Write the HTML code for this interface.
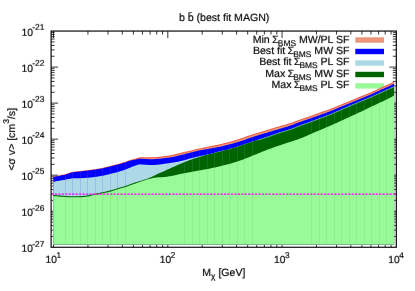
<!DOCTYPE html>
<html><head><meta charset="utf-8"><title>plot</title>
<style>html,body{margin:0;padding:0;background:#fff;}svg{display:block;}</style></head>
<body>
<svg width="415" height="291" viewBox="0 0 415 291">
<rect width="415" height="291" fill="#fff"/>
<path d="M53.55 247.25v-7.0M53.55 31.05v7.0M87.94 247.25v-3.5M87.94 31.05v3.5M108.06 247.25v-3.5M108.06 31.05v3.5M122.34 247.25v-3.5M122.34 31.05v3.5M133.41 247.25v-3.5M133.41 31.05v3.5M142.45 247.25v-3.5M142.45 31.05v3.5M150.10 247.25v-3.5M150.10 31.05v3.5M156.73 247.25v-3.5M156.73 31.05v3.5M162.57 247.25v-3.5M162.57 31.05v3.5M167.80 247.25v-7.0M167.80 31.05v7.0M202.19 247.25v-3.5M202.19 31.05v3.5M222.31 247.25v-3.5M222.31 31.05v3.5M236.59 247.25v-3.5M236.59 31.05v3.5M247.66 247.25v-3.5M247.66 31.05v3.5M256.70 247.25v-3.5M256.70 31.05v3.5M264.35 247.25v-3.5M264.35 31.05v3.5M270.98 247.25v-3.5M270.98 31.05v3.5M276.82 247.25v-3.5M276.82 31.05v3.5M282.05 247.25v-7.0M282.05 31.05v7.0M316.44 247.25v-3.5M316.44 31.05v3.5M336.56 247.25v-3.5M336.56 31.05v3.5M350.84 247.25v-3.5M350.84 31.05v3.5M361.91 247.25v-3.5M361.91 31.05v3.5M370.95 247.25v-3.5M370.95 31.05v3.5M378.60 247.25v-3.5M378.60 31.05v3.5M385.23 247.25v-3.5M385.23 31.05v3.5M391.07 247.25v-3.5M391.07 31.05v3.5M51.1 56.24h3.5M396.3 56.24h-3.5M51.1 49.89h3.5M396.3 49.89h-3.5M51.1 45.39h3.5M396.3 45.39h-3.5M51.1 41.90h3.5M396.3 41.90h-3.5M51.1 39.04h3.5M396.3 39.04h-3.5M51.1 36.63h3.5M396.3 36.63h-3.5M51.1 34.54h3.5M396.3 34.54h-3.5M51.1 32.70h3.5M396.3 32.70h-3.5M51.1 67.08h7.0M396.3 67.08h-7.0M51.1 92.27h3.5M396.3 92.27h-3.5M51.1 85.92h3.5M396.3 85.92h-3.5M51.1 81.42h3.5M396.3 81.42h-3.5M51.1 77.93h3.5M396.3 77.93h-3.5M51.1 75.08h3.5M396.3 75.08h-3.5M51.1 72.66h3.5M396.3 72.66h-3.5M51.1 70.58h3.5M396.3 70.58h-3.5M51.1 68.73h3.5M396.3 68.73h-3.5M51.1 103.12h7.0M396.3 103.12h-7.0M51.1 128.30h3.5M396.3 128.30h-3.5M51.1 121.96h3.5M396.3 121.96h-3.5M51.1 117.46h3.5M396.3 117.46h-3.5M51.1 113.96h3.5M396.3 113.96h-3.5M51.1 111.11h3.5M396.3 111.11h-3.5M51.1 108.70h3.5M396.3 108.70h-3.5M51.1 106.61h3.5M396.3 106.61h-3.5M51.1 104.77h3.5M396.3 104.77h-3.5M51.1 139.15h7.0M396.3 139.15h-7.0M51.1 164.34h3.5M396.3 164.34h-3.5M51.1 157.99h3.5M396.3 157.99h-3.5M51.1 153.49h3.5M396.3 153.49h-3.5M51.1 150.00h3.5M396.3 150.00h-3.5M51.1 147.14h3.5M396.3 147.14h-3.5M51.1 144.73h3.5M396.3 144.73h-3.5M51.1 142.64h3.5M396.3 142.64h-3.5M51.1 140.80h3.5M396.3 140.80h-3.5M51.1 175.18h7.0M396.3 175.18h-7.0M51.1 200.37h3.5M396.3 200.37h-3.5M51.1 194.02h3.5M396.3 194.02h-3.5M51.1 189.52h3.5M396.3 189.52h-3.5M51.1 186.03h3.5M396.3 186.03h-3.5M51.1 183.18h3.5M396.3 183.18h-3.5M51.1 180.76h3.5M396.3 180.76h-3.5M51.1 178.68h3.5M396.3 178.68h-3.5M51.1 176.83h3.5M396.3 176.83h-3.5M51.1 211.22h7.0M396.3 211.22h-7.0M51.1 236.40h3.5M396.3 236.40h-3.5M51.1 230.06h3.5M396.3 230.06h-3.5M51.1 225.56h3.5M396.3 225.56h-3.5M51.1 222.06h3.5M396.3 222.06h-3.5M51.1 219.21h3.5M396.3 219.21h-3.5M51.1 216.80h3.5M396.3 216.80h-3.5M51.1 214.71h3.5M396.3 214.71h-3.5M51.1 212.87h3.5M396.3 212.87h-3.5" stroke="#000" stroke-width="0.8" fill="none"/>
<rect x="355.3" y="37.30" width="28.7" height="5.4" fill="#E9967A"/>
<rect x="355.3" y="48.80" width="28.7" height="5.4" fill="#0000FF"/>
<rect x="355.3" y="60.30" width="28.7" height="5.4" fill="#ADD8E6"/>
<rect x="355.3" y="71.80" width="28.7" height="5.4" fill="#006400"/>
<rect x="355.3" y="83.20" width="28.7" height="5.4" fill="#98FB98"/>
<g fill="#F0503C"><polygon points="53.30,176.45 54.00,176.35 55.00,176.21 56.00,176.05 57.00,175.87 58.00,175.69 58.00,244.6 53.30,244.6"/><polygon points="58.00,175.69 59.00,175.49 60.00,175.29 61.00,175.07 62.00,174.85 63.00,174.62 64.00,174.39 65.00,174.15 65.15,174.11 65.15,244.6 58.00,244.6"/><polygon points="65.15,174.11 66.00,173.89 67.00,173.58 68.00,173.23 69.00,172.88 70.00,172.53 71.00,172.22 72.00,171.96 72.15,171.93 72.15,244.6 65.15,244.6"/><polygon points="72.15,171.93 73.00,171.79 74.00,171.65 75.00,171.52 76.00,171.42 77.00,171.32 78.00,171.23 79.00,171.14 80.00,171.04 80.15,171.02 80.15,244.6 72.15,244.6"/><polygon points="80.15,171.02 81.00,170.93 82.00,170.81 83.00,170.70 84.00,170.59 85.00,170.47 86.00,170.35 87.00,170.23 87.15,170.22 87.15,244.6 80.15,244.6"/><polygon points="87.15,170.22 88.00,170.11 89.00,169.98 90.00,169.85 91.00,169.71 92.00,169.57 93.00,169.43 94.00,169.29 95.00,169.14 95.15,169.12 95.15,244.6 87.15,244.6"/><polygon points="95.15,169.12 96.00,168.99 97.00,168.83 98.00,168.66 99.00,168.50 100.00,168.32 101.00,168.14 102.00,167.95 102.15,167.92 102.15,244.6 95.15,244.6"/><polygon points="102.15,167.92 103.00,167.75 104.00,167.53 105.00,167.29 106.00,167.04 107.00,166.78 108.00,166.52 109.00,166.26 110.00,166.00 110.15,165.96 110.15,244.6 102.15,244.6"/><polygon points="110.15,165.96 111.00,165.75 112.00,165.50 113.00,165.25 114.00,165.00 115.00,164.74 116.00,164.49 117.00,164.22 117.15,164.18 117.15,244.6 110.15,244.6"/><polygon points="117.15,164.18 118.00,163.95 119.00,163.67 120.00,163.39 121.00,163.11 122.00,162.81 123.00,162.51 124.00,162.20 125.00,161.88 125.15,161.83 125.15,244.6 117.15,244.6"/><polygon points="125.15,161.83 126.00,161.55 127.00,161.17 128.00,160.78 129.00,160.39 130.00,160.05 131.00,159.76 132.00,159.50 133.00,159.26 133.00,244.6 125.15,244.6"/><polygon points="133.00,159.26 134.00,159.02 135.00,158.77 136.00,158.49 137.00,158.12 138.00,157.73 139.00,157.44 140.00,157.32 140.00,244.6 133.00,244.6"/><polygon points="140.00,157.32 141.00,157.27 142.00,157.22 143.00,157.19 144.00,157.16 145.00,157.15 146.00,157.16 147.00,157.19 148.00,157.23 148.00,244.6 140.00,244.6"/><polygon points="148.00,157.23 149.00,157.29 150.00,157.33 151.00,157.35 152.00,157.34 153.00,157.31 154.00,157.26 155.00,157.19 155.00,244.6 148.00,244.6"/><polygon points="155.00,157.19 156.00,157.11 157.00,157.02 158.00,156.93 159.00,156.84 160.00,156.73 161.00,156.60 162.00,156.45 163.00,156.30 163.00,244.6 155.00,244.6"/><polygon points="163.00,156.30 164.00,156.15 165.00,156.01 166.00,155.90 167.00,155.80 168.00,155.69 169.00,155.57 170.00,155.42 170.00,244.6 163.00,244.6"/><polygon points="170.00,155.42 171.00,155.25 172.00,155.04 173.00,154.81 174.00,154.55 175.00,154.29 176.00,154.01 177.00,153.74 177.00,244.6 170.00,244.6"/><polygon points="177.00,153.74 178.00,153.47 179.00,153.21 180.00,152.98 181.00,152.75 182.00,152.52 183.00,152.29 184.00,152.07 184.15,152.04 184.15,244.6 177.00,244.6"/><polygon points="184.15,152.04 185.00,151.85 186.00,151.62 187.00,151.39 188.00,151.15 189.00,150.92 190.00,150.69 191.00,150.45 192.00,150.22 192.15,150.19 192.15,244.6 184.15,244.6"/><polygon points="192.15,150.19 193.00,149.99 194.00,149.76 195.00,149.53 196.00,149.30 197.00,149.08 198.00,148.85 199.00,148.63 199.15,148.59 199.15,244.6 192.15,244.6"/><polygon points="199.15,148.59 200.00,148.41 201.00,148.18 202.00,147.96 203.00,147.74 204.00,147.53 205.00,147.31 206.00,147.09 207.00,146.88 207.15,146.85 207.15,244.6 199.15,244.6"/><polygon points="207.15,146.85 208.00,146.67 209.00,146.46 210.00,146.25 211.00,146.05 212.00,145.85 213.00,145.66 214.00,145.47 214.15,145.44 214.15,244.6 207.15,244.6"/><polygon points="214.15,145.44 215.00,145.28 216.00,145.09 217.00,144.89 218.00,144.69 219.00,144.48 220.00,144.26 221.00,144.04 222.00,143.80 222.15,143.77 222.15,244.6 214.15,244.6"/><polygon points="222.15,143.77 223.00,143.57 224.00,143.32 225.00,143.08 226.00,142.82 227.00,142.56 228.00,142.30 229.00,142.03 229.15,141.99 229.15,244.6 222.15,244.6"/><polygon points="229.15,141.99 230.00,141.76 231.00,141.48 232.00,141.19 233.00,140.89 234.00,140.59 235.00,140.28 236.00,139.97 237.00,139.66 237.15,139.61 237.15,244.6 229.15,244.6"/><polygon points="237.15,139.61 238.00,139.34 239.00,139.02 240.00,138.69 241.00,138.36 242.00,138.01 243.00,137.67 244.00,137.32 244.15,137.26 244.15,244.6 237.15,244.6"/><polygon points="244.15,137.26 245.00,136.96 246.00,136.61 247.00,136.26 248.00,135.92 249.00,135.58 250.00,135.25 251.00,134.93 252.00,134.61 252.15,134.56 252.15,244.6 244.15,244.6"/><polygon points="252.15,134.56 253.00,134.29 254.00,133.97 255.00,133.66 256.00,133.35 257.00,133.05 258.00,132.74 259.00,132.43 260.00,132.13 260.00,244.6 252.15,244.6"/><polygon points="260.00,132.13 261.00,131.82 262.00,131.52 263.00,131.23 264.00,130.93 265.00,130.63 266.00,130.33 267.00,130.04 267.00,244.6 260.00,244.6"/><polygon points="267.00,130.04 268.00,129.74 269.00,129.44 270.00,129.14 271.00,128.84 272.00,128.53 273.00,128.23 274.00,127.92 275.00,127.62 275.00,244.6 267.00,244.6"/><polygon points="275.00,127.62 276.00,127.32 277.00,127.02 278.00,126.72 279.00,126.42 280.00,126.13 281.00,125.85 282.00,125.57 282.00,244.6 275.00,244.6"/><polygon points="282.00,125.57 283.00,125.29 284.00,125.01 285.00,124.74 286.00,124.45 287.00,124.17 288.00,123.87 289.00,123.57 290.00,123.25 290.00,244.6 282.00,244.6"/><polygon points="290.00,123.25 291.00,122.92 292.00,122.57 293.00,122.21 294.00,121.84 295.00,121.47 296.00,121.09 297.00,120.71 297.00,244.6 290.00,244.6"/><polygon points="297.00,120.71 298.00,120.33 299.00,119.97 300.00,119.61 301.00,119.25 302.00,118.90 303.00,118.55 304.00,118.20 304.00,244.6 297.00,244.6"/><polygon points="304.00,118.20 305.00,117.85 306.00,117.50 307.00,117.16 308.00,116.81 309.00,116.46 310.00,116.10 311.00,115.75 311.15,115.70 311.15,244.6 304.00,244.6"/><polygon points="311.15,115.70 312.00,115.40 313.00,115.04 314.00,114.69 315.00,114.33 316.00,113.98 317.00,113.62 318.00,113.27 319.00,112.91 319.15,112.86 319.15,244.6 311.15,244.6"/><polygon points="319.15,112.86 320.00,112.56 321.00,112.22 322.00,111.87 323.00,111.53 324.00,111.19 325.00,110.84 326.00,110.50 326.15,110.44 326.15,244.6 319.15,244.6"/><polygon points="326.15,110.44 327.00,110.14 328.00,109.79 329.00,109.42 330.00,109.05 331.00,108.67 332.00,108.27 333.00,107.87 334.00,107.46 334.15,107.40 334.15,244.6 326.15,244.6"/><polygon points="334.15,107.40 335.00,107.04 336.00,106.63 337.00,106.21 338.00,105.80 339.00,105.39 340.00,104.99 341.00,104.58 341.15,104.52 341.15,244.6 334.15,244.6"/><polygon points="341.15,104.52 342.00,104.17 343.00,103.77 344.00,103.36 345.00,102.96 346.00,102.55 347.00,102.15 348.00,101.74 349.00,101.33 349.15,101.26 349.15,244.6 341.15,244.6"/><polygon points="349.15,101.26 350.00,100.91 351.00,100.49 352.00,100.07 353.00,99.64 354.00,99.22 355.00,98.79 356.00,98.37 356.15,98.31 356.15,244.6 349.15,244.6"/><polygon points="356.15,98.31 357.00,97.95 358.00,97.52 359.00,97.11 360.00,96.69 361.00,96.28 362.00,95.88 363.00,95.48 364.00,95.07 364.15,95.01 364.15,244.6 356.15,244.6"/><polygon points="364.15,95.01 365.00,94.67 366.00,94.28 367.00,93.88 368.00,93.48 369.00,93.07 370.00,92.65 371.00,92.22 371.15,92.15 371.15,244.6 364.15,244.6"/><polygon points="371.15,92.15 372.00,91.77 373.00,91.32 374.00,90.86 375.00,90.39 376.00,89.92 377.00,89.45 378.00,88.98 379.00,88.51 379.15,88.44 379.15,244.6 371.15,244.6"/><polygon points="379.15,88.44 380.00,88.05 381.00,87.59 382.00,87.13 383.00,86.69 384.00,86.24 385.00,85.80 386.00,85.35 386.15,85.29 386.15,244.6 379.15,244.6"/><polygon points="386.15,85.29 387.00,84.91 388.00,84.47 389.00,84.02 390.00,83.56 391.00,83.10 392.00,82.64 393.00,82.16 394.00,81.69 394.10,81.64 394.10,244.6 386.15,244.6"/></g>
<g fill="#E9967A"><polygon points="53.30,177.45 54.00,177.35 55.00,177.21 56.00,177.05 57.00,176.87 58.00,176.69 58.00,244.6 53.30,244.6"/><polygon points="58.00,176.69 59.00,176.49 60.00,176.29 61.00,176.07 62.00,175.85 63.00,175.62 64.00,175.39 65.00,175.15 65.15,175.11 65.15,244.6 58.00,244.6"/><polygon points="65.15,175.11 66.00,174.89 67.00,174.58 68.00,174.23 69.00,173.88 70.00,173.53 71.00,173.22 72.00,172.96 72.15,172.93 72.15,244.6 65.15,244.6"/><polygon points="72.15,172.93 73.00,172.79 74.00,172.65 75.00,172.52 76.00,172.42 77.00,172.32 78.00,172.23 79.00,172.14 80.00,172.04 80.15,172.02 80.15,244.6 72.15,244.6"/><polygon points="80.15,172.02 81.00,171.93 82.00,171.81 83.00,171.70 84.00,171.59 85.00,171.47 86.00,171.35 87.00,171.23 87.15,171.22 87.15,244.6 80.15,244.6"/><polygon points="87.15,171.22 88.00,171.11 89.00,170.98 90.00,170.85 91.00,170.71 92.00,170.57 93.00,170.43 94.00,170.29 95.00,170.14 95.15,170.12 95.15,244.6 87.15,244.6"/><polygon points="95.15,170.12 96.00,169.99 97.00,169.83 98.00,169.66 99.00,169.50 100.00,169.32 101.00,169.14 102.00,168.95 102.15,168.92 102.15,244.6 95.15,244.6"/><polygon points="102.15,168.92 103.00,168.75 104.00,168.53 105.00,168.29 106.00,168.04 107.00,167.78 108.00,167.52 109.00,167.26 110.00,167.00 110.15,166.96 110.15,244.6 102.15,244.6"/><polygon points="110.15,166.96 111.00,166.75 112.00,166.50 113.00,166.25 114.00,166.00 115.00,165.74 116.00,165.49 117.00,165.22 117.15,165.18 117.15,244.6 110.15,244.6"/><polygon points="117.15,165.18 118.00,164.95 119.00,164.67 120.00,164.39 121.00,164.11 122.00,163.81 123.00,163.51 124.00,163.20 125.00,162.88 125.15,162.83 125.15,244.6 117.15,244.6"/><polygon points="125.15,162.83 126.00,162.55 127.00,162.17 128.00,161.78 129.00,161.39 130.00,161.05 131.00,160.76 132.00,160.50 133.00,160.26 133.00,244.6 125.15,244.6"/><polygon points="133.00,160.26 134.00,160.02 135.00,159.77 136.00,159.49 137.00,159.12 138.00,158.73 139.00,158.44 140.00,158.32 140.00,244.6 133.00,244.6"/><polygon points="140.00,158.32 141.00,158.27 142.00,158.22 143.00,158.19 144.00,158.16 145.00,158.15 146.00,158.16 147.00,158.19 148.00,158.23 148.00,244.6 140.00,244.6"/><polygon points="148.00,158.23 149.00,158.29 150.00,158.33 151.00,158.35 152.00,158.34 153.00,158.31 154.00,158.26 155.00,158.19 155.00,244.6 148.00,244.6"/><polygon points="155.00,158.19 156.00,158.11 157.00,158.02 158.00,157.93 159.00,157.84 160.00,157.73 161.00,157.60 162.00,157.45 163.00,157.30 163.00,244.6 155.00,244.6"/><polygon points="163.00,157.30 164.00,157.15 165.00,157.01 166.00,156.90 167.00,156.80 168.00,156.69 169.00,156.57 170.00,156.42 170.00,244.6 163.00,244.6"/><polygon points="170.00,156.42 171.00,156.25 172.00,156.04 173.00,155.81 174.00,155.55 175.00,155.29 176.00,155.01 177.00,154.74 177.00,244.6 170.00,244.6"/><polygon points="177.00,154.74 178.00,154.47 179.00,154.21 180.00,153.98 181.00,153.75 182.00,153.52 183.00,153.29 184.00,153.07 184.15,153.04 184.15,244.6 177.00,244.6"/><polygon points="184.15,153.04 185.00,152.85 186.00,152.62 187.00,152.39 188.00,152.15 189.00,151.92 190.00,151.69 191.00,151.45 192.00,151.22 192.15,151.19 192.15,244.6 184.15,244.6"/><polygon points="192.15,151.19 193.00,150.99 194.00,150.76 195.00,150.53 196.00,150.30 197.00,150.08 198.00,149.85 199.00,149.63 199.15,149.59 199.15,244.6 192.15,244.6"/><polygon points="199.15,149.59 200.00,149.41 201.00,149.18 202.00,148.96 203.00,148.74 204.00,148.53 205.00,148.31 206.00,148.09 207.00,147.88 207.15,147.85 207.15,244.6 199.15,244.6"/><polygon points="207.15,147.85 208.00,147.67 209.00,147.46 210.00,147.25 211.00,147.05 212.00,146.85 213.00,146.66 214.00,146.47 214.15,146.44 214.15,244.6 207.15,244.6"/><polygon points="214.15,146.44 215.00,146.28 216.00,146.09 217.00,145.89 218.00,145.69 219.00,145.48 220.00,145.26 221.00,145.04 222.00,144.80 222.15,144.77 222.15,244.6 214.15,244.6"/><polygon points="222.15,144.77 223.00,144.57 224.00,144.32 225.00,144.08 226.00,143.82 227.00,143.56 228.00,143.30 229.00,143.03 229.15,142.99 229.15,244.6 222.15,244.6"/><polygon points="229.15,142.99 230.00,142.76 231.00,142.48 232.00,142.19 233.00,141.89 234.00,141.59 235.00,141.28 236.00,140.97 237.00,140.66 237.15,140.61 237.15,244.6 229.15,244.6"/><polygon points="237.15,140.61 238.00,140.34 239.00,140.02 240.00,139.69 241.00,139.36 242.00,139.01 243.00,138.67 244.00,138.32 244.15,138.26 244.15,244.6 237.15,244.6"/><polygon points="244.15,138.26 245.00,137.96 246.00,137.61 247.00,137.26 248.00,136.92 249.00,136.58 250.00,136.25 251.00,135.93 252.00,135.61 252.15,135.56 252.15,244.6 244.15,244.6"/><polygon points="252.15,135.56 253.00,135.29 254.00,134.97 255.00,134.66 256.00,134.35 257.00,134.05 258.00,133.74 259.00,133.43 260.00,133.13 260.00,244.6 252.15,244.6"/><polygon points="260.00,133.13 261.00,132.82 262.00,132.52 263.00,132.23 264.00,131.93 265.00,131.63 266.00,131.33 267.00,131.04 267.00,244.6 260.00,244.6"/><polygon points="267.00,131.04 268.00,130.74 269.00,130.44 270.00,130.14 271.00,129.84 272.00,129.53 273.00,129.23 274.00,128.92 275.00,128.62 275.00,244.6 267.00,244.6"/><polygon points="275.00,128.62 276.00,128.32 277.00,128.02 278.00,127.72 279.00,127.42 280.00,127.13 281.00,126.85 282.00,126.57 282.00,244.6 275.00,244.6"/><polygon points="282.00,126.57 283.00,126.29 284.00,126.01 285.00,125.74 286.00,125.45 287.00,125.17 288.00,124.87 289.00,124.57 290.00,124.25 290.00,244.6 282.00,244.6"/><polygon points="290.00,124.25 291.00,123.92 292.00,123.57 293.00,123.21 294.00,122.84 295.00,122.47 296.00,122.09 297.00,121.71 297.00,244.6 290.00,244.6"/><polygon points="297.00,121.71 298.00,121.33 299.00,120.97 300.00,120.61 301.00,120.25 302.00,119.90 303.00,119.55 304.00,119.20 304.00,244.6 297.00,244.6"/><polygon points="304.00,119.20 305.00,118.85 306.00,118.50 307.00,118.16 308.00,117.81 309.00,117.46 310.00,117.10 311.00,116.75 311.15,116.70 311.15,244.6 304.00,244.6"/><polygon points="311.15,116.70 312.00,116.40 313.00,116.04 314.00,115.69 315.00,115.33 316.00,114.98 317.00,114.62 318.00,114.27 319.00,113.91 319.15,113.86 319.15,244.6 311.15,244.6"/><polygon points="319.15,113.86 320.00,113.56 321.00,113.22 322.00,112.87 323.00,112.53 324.00,112.19 325.00,111.84 326.00,111.50 326.15,111.44 326.15,244.6 319.15,244.6"/><polygon points="326.15,111.44 327.00,111.14 328.00,110.79 329.00,110.42 330.00,110.05 331.00,109.67 332.00,109.27 333.00,108.87 334.00,108.46 334.15,108.40 334.15,244.6 326.15,244.6"/><polygon points="334.15,108.40 335.00,108.04 336.00,107.63 337.00,107.21 338.00,106.80 339.00,106.39 340.00,105.99 341.00,105.58 341.15,105.52 341.15,244.6 334.15,244.6"/><polygon points="341.15,105.52 342.00,105.17 343.00,104.77 344.00,104.36 345.00,103.96 346.00,103.55 347.00,103.15 348.00,102.74 349.00,102.33 349.15,102.26 349.15,244.6 341.15,244.6"/><polygon points="349.15,102.26 350.00,101.91 351.00,101.49 352.00,101.07 353.00,100.64 354.00,100.22 355.00,99.79 356.00,99.37 356.15,99.31 356.15,244.6 349.15,244.6"/><polygon points="356.15,99.31 357.00,98.95 358.00,98.52 359.00,98.11 360.00,97.69 361.00,97.28 362.00,96.88 363.00,96.48 364.00,96.07 364.15,96.01 364.15,244.6 356.15,244.6"/><polygon points="364.15,96.01 365.00,95.67 366.00,95.28 367.00,94.88 368.00,94.48 369.00,94.07 370.00,93.65 371.00,93.22 371.15,93.15 371.15,244.6 364.15,244.6"/><polygon points="371.15,93.15 372.00,92.77 373.00,92.32 374.00,91.86 375.00,91.39 376.00,90.92 377.00,90.45 378.00,89.98 379.00,89.51 379.15,89.44 379.15,244.6 371.15,244.6"/><polygon points="379.15,89.44 380.00,89.05 381.00,88.59 382.00,88.13 383.00,87.69 384.00,87.24 385.00,86.80 386.00,86.35 386.15,86.29 386.15,244.6 379.15,244.6"/><polygon points="386.15,86.29 387.00,85.91 388.00,85.47 389.00,85.02 390.00,84.56 391.00,84.10 392.00,83.64 393.00,83.16 394.00,82.69 394.10,82.64 394.10,244.6 386.15,244.6"/></g>
<g fill="#0000FF"><polygon points="53.30,176.95 54.00,176.85 55.00,176.71 56.00,176.55 57.00,176.37 58.00,176.19 58.00,244.6 53.30,244.6"/><polygon points="58.00,176.19 59.00,175.99 60.00,175.79 61.00,175.57 62.00,175.35 63.00,175.12 64.00,174.89 65.00,174.65 65.15,174.61 65.15,244.6 58.00,244.6"/><polygon points="65.15,174.61 66.00,174.39 67.00,174.08 68.00,173.73 69.00,173.38 70.00,173.03 71.00,172.72 72.00,172.46 72.15,172.43 72.15,244.6 65.15,244.6"/><polygon points="72.15,172.43 73.00,172.29 74.00,172.15 75.00,172.02 76.00,171.92 77.00,171.82 78.00,171.73 79.00,171.64 80.00,171.54 80.15,171.52 80.15,244.6 72.15,244.6"/><polygon points="80.15,171.52 81.00,171.43 82.00,171.31 83.00,171.20 84.00,171.09 85.00,170.97 86.00,170.85 87.00,170.73 87.15,170.72 87.15,244.6 80.15,244.6"/><polygon points="87.15,170.72 88.00,170.61 89.00,170.48 90.00,170.35 91.00,170.21 92.00,170.07 93.00,169.93 94.00,169.79 95.00,169.64 95.15,169.62 95.15,244.6 87.15,244.6"/><polygon points="95.15,169.62 96.00,169.49 97.00,169.33 98.00,169.16 99.00,169.00 100.00,168.82 101.00,168.64 102.00,168.45 102.15,168.42 102.15,244.6 95.15,244.6"/><polygon points="102.15,168.42 103.00,168.25 104.00,168.03 105.00,167.79 106.00,167.54 107.00,167.28 108.00,167.02 109.00,166.76 110.00,166.50 110.15,166.46 110.15,244.6 102.15,244.6"/><polygon points="110.15,166.46 111.00,166.25 112.00,166.00 113.00,165.75 114.00,165.49 115.00,165.24 116.00,164.98 117.00,164.72 117.15,164.68 117.15,244.6 110.15,244.6"/><polygon points="117.15,164.68 118.00,164.45 119.00,164.18 120.00,163.91 121.00,163.64 122.00,163.36 123.00,163.08 124.00,162.78 125.00,162.47 125.15,162.43 125.15,244.6 117.15,244.6"/><polygon points="125.15,162.43 126.00,162.15 127.00,161.76 128.00,161.35 129.00,160.96 130.00,160.65 131.00,160.42 132.00,160.22 133.00,160.04 133.00,244.6 125.15,244.6"/><polygon points="133.00,160.04 134.00,159.88 135.00,159.70 136.00,159.51 137.00,159.25 138.00,158.98 139.00,158.79 140.00,158.75 140.00,244.6 133.00,244.6"/><polygon points="140.00,158.75 141.00,158.77 142.00,158.80 143.00,158.84 144.00,158.89 145.00,158.93 146.00,158.98 147.00,159.04 148.00,159.11 148.00,244.6 140.00,244.6"/><polygon points="148.00,159.11 149.00,159.17 150.00,159.22 151.00,159.25 152.00,159.24 153.00,159.21 154.00,159.16 155.00,159.09 155.00,244.6 148.00,244.6"/><polygon points="155.00,159.09 156.00,159.01 157.00,158.92 158.00,158.83 159.00,158.74 160.00,158.64 161.00,158.53 162.00,158.40 163.00,158.27 163.00,244.6 155.00,244.6"/><polygon points="163.00,158.27 164.00,158.14 165.00,158.01 166.00,157.91 167.00,157.82 168.00,157.72 169.00,157.61 170.00,157.47 170.00,244.6 163.00,244.6"/><polygon points="170.00,157.47 171.00,157.31 172.00,157.12 173.00,156.91 174.00,156.67 175.00,156.43 176.00,156.17 177.00,155.91 177.00,244.6 170.00,244.6"/><polygon points="177.00,155.91 178.00,155.66 179.00,155.41 180.00,155.18 181.00,154.95 182.00,154.71 183.00,154.48 184.00,154.25 184.15,154.21 184.15,244.6 177.00,244.6"/><polygon points="184.15,154.21 185.00,154.02 186.00,153.77 187.00,153.52 188.00,153.27 189.00,153.02 190.00,152.77 191.00,152.52 192.00,152.25 192.15,152.21 192.15,244.6 184.15,244.6"/><polygon points="192.15,152.21 193.00,151.99 194.00,151.73 195.00,151.47 196.00,151.22 197.00,150.97 198.00,150.74 199.00,150.53 199.15,150.50 199.15,244.6 192.15,244.6"/><polygon points="199.15,150.50 200.00,150.33 201.00,150.14 202.00,149.96 203.00,149.79 204.00,149.62 205.00,149.45 206.00,149.29 207.00,149.12 207.15,149.10 207.15,244.6 199.15,244.6"/><polygon points="207.15,149.10 208.00,148.95 209.00,148.78 210.00,148.60 211.00,148.42 212.00,148.23 213.00,148.05 214.00,147.86 214.15,147.84 214.15,244.6 207.15,244.6"/><polygon points="214.15,147.84 215.00,147.68 216.00,147.48 217.00,147.29 218.00,147.09 219.00,146.88 220.00,146.66 221.00,146.44 222.00,146.20 222.15,146.17 222.15,244.6 214.15,244.6"/><polygon points="222.15,146.17 223.00,145.96 224.00,145.71 225.00,145.46 226.00,145.21 227.00,144.95 228.00,144.69 229.00,144.43 229.15,144.39 229.15,244.6 222.15,244.6"/><polygon points="229.15,144.39 230.00,144.17 231.00,143.91 232.00,143.65 233.00,143.39 234.00,143.13 235.00,142.86 236.00,142.59 237.00,142.31 237.15,142.27 237.15,244.6 229.15,244.6"/><polygon points="237.15,142.27 238.00,142.02 239.00,141.72 240.00,141.41 241.00,141.08 242.00,140.74 243.00,140.38 244.00,140.03 244.15,139.97 244.15,244.6 237.15,244.6"/><polygon points="244.15,139.97 245.00,139.66 246.00,139.30 247.00,138.94 248.00,138.59 249.00,138.24 250.00,137.90 251.00,137.57 252.00,137.24 252.15,137.20 252.15,244.6 244.15,244.6"/><polygon points="252.15,137.20 253.00,136.92 254.00,136.60 255.00,136.28 256.00,135.97 257.00,135.66 258.00,135.34 259.00,135.04 260.00,134.73 260.00,244.6 252.15,244.6"/><polygon points="260.00,134.73 261.00,134.42 262.00,134.12 263.00,133.82 264.00,133.52 265.00,133.22 266.00,132.92 267.00,132.63 267.00,244.6 260.00,244.6"/><polygon points="267.00,132.63 268.00,132.33 269.00,132.04 270.00,131.74 271.00,131.45 272.00,131.16 273.00,130.87 274.00,130.59 275.00,130.30 275.00,244.6 267.00,244.6"/><polygon points="275.00,130.30 276.00,130.01 277.00,129.71 278.00,129.42 279.00,129.12 280.00,128.82 281.00,128.52 282.00,128.22 282.00,244.6 275.00,244.6"/><polygon points="282.00,128.22 283.00,127.92 284.00,127.61 285.00,127.31 286.00,127.00 287.00,126.68 288.00,126.36 289.00,126.03 290.00,125.70 290.00,244.6 282.00,244.6"/><polygon points="290.00,125.70 291.00,125.35 292.00,125.00 293.00,124.63 294.00,124.25 295.00,123.87 296.00,123.49 297.00,123.11 297.00,244.6 290.00,244.6"/><polygon points="297.00,123.11 298.00,122.74 299.00,122.37 300.00,122.01 301.00,121.65 302.00,121.30 303.00,120.95 304.00,120.60 304.00,244.6 297.00,244.6"/><polygon points="304.00,120.60 305.00,120.25 306.00,119.90 307.00,119.55 308.00,119.21 309.00,118.86 310.00,118.50 311.00,118.15 311.15,118.10 311.15,244.6 304.00,244.6"/><polygon points="311.15,118.10 312.00,117.80 313.00,117.45 314.00,117.10 315.00,116.74 316.00,116.39 317.00,116.03 318.00,115.67 319.00,115.31 319.15,115.26 319.15,244.6 311.15,244.6"/><polygon points="319.15,115.26 320.00,114.95 321.00,114.59 322.00,114.23 323.00,113.87 324.00,113.50 325.00,113.13 326.00,112.76 326.15,112.71 326.15,244.6 319.15,244.6"/><polygon points="326.15,112.71 327.00,112.39 328.00,112.02 329.00,111.63 330.00,111.25 331.00,110.86 332.00,110.46 333.00,110.05 334.00,109.64 334.15,109.58 334.15,244.6 326.15,244.6"/><polygon points="334.15,109.58 335.00,109.23 336.00,108.82 337.00,108.41 338.00,108.00 339.00,107.59 340.00,107.19 341.00,106.78 341.15,106.72 341.15,244.6 334.15,244.6"/><polygon points="341.15,106.72 342.00,106.37 343.00,105.97 344.00,105.56 345.00,105.16 346.00,104.75 347.00,104.35 348.00,103.94 349.00,103.53 349.15,103.46 349.15,244.6 341.15,244.6"/><polygon points="349.15,103.46 350.00,103.11 351.00,102.69 352.00,102.27 353.00,101.84 354.00,101.42 355.00,100.99 356.00,100.57 356.15,100.51 356.15,244.6 349.15,244.6"/><polygon points="356.15,100.51 357.00,100.15 358.00,99.72 359.00,99.31 360.00,98.89 361.00,98.48 362.00,98.08 363.00,97.68 364.00,97.27 364.15,97.21 364.15,244.6 356.15,244.6"/><polygon points="364.15,97.21 365.00,96.87 366.00,96.48 367.00,96.08 368.00,95.68 369.00,95.27 370.00,94.85 371.00,94.42 371.15,94.35 371.15,244.6 364.15,244.6"/><polygon points="371.15,94.35 372.00,93.97 373.00,93.52 374.00,93.06 375.00,92.59 376.00,92.12 377.00,91.65 378.00,91.18 379.00,90.71 379.15,90.64 379.15,244.6 371.15,244.6"/><polygon points="379.15,90.64 380.00,90.25 381.00,89.79 382.00,89.33 383.00,88.89 384.00,88.44 385.00,88.00 386.00,87.55 386.15,87.49 386.15,244.6 379.15,244.6"/><polygon points="386.15,87.49 387.00,87.11 388.00,86.67 389.00,86.22 390.00,85.76 391.00,85.30 392.00,84.84 393.00,84.36 394.00,83.89 394.10,83.84 394.10,244.6 386.15,244.6"/></g>
<g fill="#ADD8E6"><polygon points="53.30,181.75 54.00,181.63 55.00,181.46 56.00,181.29 57.00,181.12 58.00,180.95 58.00,244.6 53.30,244.6"/><polygon points="58.00,180.95 59.00,180.77 60.00,180.60 61.00,180.42 62.00,180.25 63.00,180.07 64.00,179.90 65.00,179.72 65.15,179.69 65.15,244.6 58.00,244.6"/><polygon points="65.15,179.69 66.00,179.54 67.00,179.33 68.00,179.10 69.00,178.88 70.00,178.68 71.00,178.51 72.00,178.39 72.15,178.38 72.15,244.6 65.15,244.6"/><polygon points="72.15,178.38 73.00,178.33 74.00,178.30 75.00,178.27 76.00,178.25 77.00,178.24 78.00,178.22 79.00,178.20 80.00,178.18 80.15,178.17 80.15,244.6 72.15,244.6"/><polygon points="80.15,178.17 81.00,178.14 82.00,178.10 83.00,178.05 84.00,178.00 85.00,177.94 86.00,177.87 87.00,177.80 87.15,177.79 87.15,244.6 80.15,244.6"/><polygon points="87.15,177.79 88.00,177.72 89.00,177.64 90.00,177.55 91.00,177.46 92.00,177.35 93.00,177.24 94.00,177.11 95.00,176.98 95.15,176.96 95.15,244.6 87.15,244.6"/><polygon points="95.15,176.96 96.00,176.84 97.00,176.69 98.00,176.53 99.00,176.37 100.00,176.20 101.00,176.02 102.00,175.84 102.15,175.81 102.15,244.6 95.15,244.6"/><polygon points="102.15,175.81 103.00,175.65 104.00,175.44 105.00,175.20 106.00,174.95 107.00,174.69 108.00,174.42 109.00,174.15 110.00,173.90 110.15,173.86 110.15,244.6 102.15,244.6"/><polygon points="110.15,173.86 111.00,173.66 112.00,173.42 113.00,173.19 114.00,172.96 115.00,172.72 116.00,172.48 117.00,172.22 117.15,172.18 117.15,244.6 110.15,244.6"/><polygon points="117.15,172.18 118.00,171.95 119.00,171.67 120.00,171.37 121.00,171.06 122.00,170.74 123.00,170.41 124.00,170.06 125.00,169.71 125.15,169.65 125.15,244.6 117.15,244.6"/><polygon points="125.15,169.65 126.00,169.34 127.00,168.93 128.00,168.50 129.00,168.07 130.00,167.65 131.00,167.25 132.00,166.85 133.00,166.46 133.00,244.6 125.15,244.6"/><polygon points="133.00,166.46 134.00,166.08 135.00,165.72 136.00,165.38 137.00,165.01 138.00,164.64 139.00,164.40 140.00,164.35 140.00,244.6 133.00,244.6"/><polygon points="140.00,164.35 141.00,164.39 142.00,164.46 143.00,164.55 144.00,164.64 145.00,164.72 146.00,164.79 147.00,164.86 148.00,164.92 148.00,244.6 140.00,244.6"/><polygon points="148.00,164.92 149.00,164.98 150.00,165.03 151.00,165.05 152.00,165.04 153.00,165.01 154.00,164.96 155.00,164.89 155.00,244.6 148.00,244.6"/><polygon points="155.00,164.89 156.00,164.81 157.00,164.72 158.00,164.63 159.00,164.54 160.00,164.43 161.00,164.30 162.00,164.16 163.00,164.01 163.00,244.6 155.00,244.6"/><polygon points="163.00,164.01 164.00,163.85 165.00,163.71 166.00,163.58 167.00,163.45 168.00,163.31 169.00,163.17 170.00,163.03 170.00,244.6 163.00,244.6"/><polygon points="170.00,163.03 171.00,162.87 172.00,162.72 173.00,162.56 174.00,162.40 175.00,162.23 176.00,162.06 177.00,161.88 177.00,244.6 170.00,244.6"/><polygon points="177.00,161.88 178.00,161.69 179.00,161.49 180.00,161.28 181.00,161.05 182.00,160.80 183.00,160.54 184.00,160.27 184.15,160.22 184.15,244.6 177.00,244.6"/><polygon points="184.15,160.22 185.00,159.98 186.00,159.69 187.00,159.39 188.00,159.11 189.00,158.83 190.00,158.57 191.00,158.31 192.00,158.06 192.15,158.02 192.15,244.6 184.15,244.6"/><polygon points="192.15,158.02 193.00,157.81 194.00,157.56 195.00,157.31 196.00,157.07 197.00,156.82 198.00,156.57 199.00,156.32 199.15,156.29 199.15,244.6 192.15,244.6"/><polygon points="199.15,156.29 200.00,156.07 201.00,155.87 202.00,155.67 203.00,155.46 204.00,155.25 205.00,155.04 206.00,154.82 207.00,154.61 207.15,154.58 207.15,244.6 199.15,244.6"/><polygon points="207.15,154.58 208.00,154.39 209.00,154.17 210.00,153.95 211.00,153.69 212.00,153.42 213.00,153.16 214.00,152.90 214.15,152.86 214.15,244.6 207.15,244.6"/><polygon points="214.15,152.86 215.00,152.63 216.00,152.37 217.00,152.12 218.00,151.86 219.00,151.60 220.00,151.35 221.00,151.10 222.00,150.86 222.15,150.82 222.15,244.6 214.15,244.6"/><polygon points="222.15,150.82 223.00,150.62 224.00,150.38 225.00,150.14 226.00,149.90 227.00,149.65 228.00,149.39 229.00,149.13 229.15,149.09 229.15,244.6 222.15,244.6"/><polygon points="229.15,149.09 230.00,148.86 231.00,148.58 232.00,148.29 233.00,147.99 234.00,147.69 235.00,147.38 236.00,147.07 237.00,146.76 237.15,146.71 237.15,244.6 229.15,244.6"/><polygon points="237.15,146.71 238.00,146.44 239.00,146.12 240.00,145.79 241.00,145.45 242.00,145.10 243.00,144.75 244.00,144.40 244.15,144.34 244.15,244.6 237.15,244.6"/><polygon points="244.15,144.34 245.00,144.04 246.00,143.68 247.00,143.33 248.00,142.98 249.00,142.64 250.00,142.30 251.00,141.97 252.00,141.65 252.15,141.60 252.15,244.6 244.15,244.6"/><polygon points="252.15,141.60 253.00,141.33 254.00,141.02 255.00,140.70 256.00,140.39 257.00,140.08 258.00,139.76 259.00,139.44 260.00,139.12 260.00,244.6 252.15,244.6"/><polygon points="260.00,139.12 261.00,138.80 262.00,138.47 263.00,138.15 264.00,137.82 265.00,137.49 266.00,137.16 267.00,136.83 267.00,244.6 260.00,244.6"/><polygon points="267.00,136.83 268.00,136.49 269.00,136.15 270.00,135.81 271.00,135.46 272.00,135.10 273.00,134.74 274.00,134.37 275.00,134.01 275.00,244.6 267.00,244.6"/><polygon points="275.00,134.01 276.00,133.65 277.00,133.30 278.00,132.95 279.00,132.62 280.00,132.30 281.00,131.99 282.00,131.68 282.00,244.6 275.00,244.6"/><polygon points="282.00,131.68 283.00,131.39 284.00,131.10 285.00,130.80 286.00,130.51 287.00,130.21 288.00,129.90 289.00,129.58 290.00,129.25 290.00,244.6 282.00,244.6"/><polygon points="290.00,129.25 291.00,128.90 292.00,128.54 293.00,128.16 294.00,127.78 295.00,127.39 296.00,126.99 297.00,126.60 297.00,244.6 290.00,244.6"/><polygon points="297.00,126.60 298.00,126.21 299.00,125.83 300.00,125.45 301.00,125.08 302.00,124.71 303.00,124.35 304.00,123.99 304.00,244.6 297.00,244.6"/><polygon points="304.00,123.99 305.00,123.62 306.00,123.26 307.00,122.89 308.00,122.53 309.00,122.16 310.00,121.79 311.00,121.42 311.15,121.36 311.15,244.6 304.00,244.6"/><polygon points="311.15,121.36 312.00,121.04 313.00,120.67 314.00,120.29 315.00,119.91 316.00,119.54 317.00,119.16 318.00,118.79 319.00,118.41 319.15,118.36 319.15,244.6 311.15,244.6"/><polygon points="319.15,118.36 320.00,118.04 321.00,117.68 322.00,117.32 323.00,116.96 324.00,116.60 325.00,116.24 326.00,115.88 326.15,115.82 326.15,244.6 319.15,244.6"/><polygon points="326.15,115.82 327.00,115.51 328.00,115.13 329.00,114.75 330.00,114.35 331.00,113.94 332.00,113.52 333.00,113.08 334.00,112.64 334.15,112.58 334.15,244.6 326.15,244.6"/><polygon points="334.15,112.58 335.00,112.19 336.00,111.74 337.00,111.30 338.00,110.85 339.00,110.41 340.00,109.98 341.00,109.53 341.15,109.47 341.15,244.6 334.15,244.6"/><polygon points="341.15,109.47 342.00,109.09 343.00,108.65 344.00,108.21 345.00,107.77 346.00,107.33 347.00,106.90 348.00,106.46 349.00,106.03 349.15,105.97 349.15,244.6 341.15,244.6"/><polygon points="349.15,105.97 350.00,105.60 351.00,105.17 352.00,104.75 353.00,104.33 354.00,103.91 355.00,103.49 356.00,103.07 356.15,103.00 356.15,244.6 349.15,244.6"/><polygon points="356.15,103.00 357.00,102.65 358.00,102.23 359.00,101.81 360.00,101.39 361.00,100.97 362.00,100.55 363.00,100.14 364.00,99.73 364.15,99.66 364.15,244.6 356.15,244.6"/><polygon points="364.15,99.66 365.00,99.31 366.00,98.91 367.00,98.50 368.00,98.09 369.00,97.67 370.00,97.25 371.00,96.82 371.15,96.75 371.15,244.6 364.15,244.6"/><polygon points="371.15,96.75 372.00,96.38 373.00,95.93 374.00,95.48 375.00,95.03 376.00,94.57 377.00,94.11 378.00,93.65 379.00,93.19 379.15,93.13 379.15,244.6 371.15,244.6"/><polygon points="379.15,93.13 380.00,92.74 381.00,92.29 382.00,91.84 383.00,91.39 384.00,90.95 385.00,90.50 386.00,90.06 386.15,89.99 386.15,244.6 379.15,244.6"/><polygon points="386.15,89.99 387.00,89.62 388.00,89.17 389.00,88.72 390.00,88.26 391.00,87.80 392.00,87.34 393.00,86.86 394.00,86.39 394.10,86.34 394.10,244.6 386.15,244.6"/></g>
<g fill="#006400"><polygon points="53.30,194.90 54.00,194.97 55.00,195.07 56.00,195.17 57.00,195.27 58.00,195.36 58.00,244.6 53.30,244.6"/><polygon points="58.00,195.36 59.00,195.44 60.00,195.53 61.00,195.61 62.00,195.68 63.00,195.75 64.00,195.82 65.00,195.88 65.15,195.89 65.15,244.6 58.00,244.6"/><polygon points="65.15,195.89 66.00,195.94 67.00,196.01 68.00,196.07 69.00,196.13 70.00,196.18 71.00,196.22 72.00,196.25 72.15,196.25 72.15,244.6 65.15,244.6"/><polygon points="72.15,196.25 73.00,196.25 74.00,196.24 75.00,196.23 76.00,196.22 77.00,196.20 78.00,196.18 79.00,196.15 80.00,196.12 80.15,196.12 80.15,244.6 72.15,244.6"/><polygon points="80.15,196.12 81.00,196.09 82.00,196.04 83.00,195.96 84.00,195.86 85.00,195.73 86.00,195.60 87.00,195.45 87.15,195.43 87.15,244.6 80.15,244.6"/><polygon points="87.15,195.43 88.00,195.30 89.00,195.12 90.00,194.89 91.00,194.64 92.00,194.38 93.00,194.14 94.00,193.92 95.00,193.71 95.15,193.68 95.15,244.6 87.15,244.6"/><polygon points="95.15,193.68 96.00,193.51 97.00,193.32 98.00,193.14 99.00,192.95 100.00,192.76 101.00,192.57 102.00,192.37 102.15,192.34 102.15,244.6 95.15,244.6"/><polygon points="102.15,192.34 103.00,192.16 104.00,191.95 105.00,191.73 106.00,191.51 107.00,191.28 108.00,191.05 109.00,190.82 110.00,190.57 110.15,190.53 110.15,244.6 102.15,244.6"/><polygon points="110.15,190.53 111.00,190.32 112.00,190.05 113.00,189.77 114.00,189.46 115.00,189.12 116.00,188.76 117.00,188.40 117.15,188.35 117.15,244.6 110.15,244.6"/><polygon points="117.15,188.35 118.00,188.04 119.00,187.70 120.00,187.40 121.00,187.14 122.00,186.90 123.00,186.66 124.00,186.40 125.00,186.10 125.15,186.05 125.15,244.6 117.15,244.6"/><polygon points="125.15,186.05 126.00,185.78 127.00,185.44 128.00,185.08 129.00,184.71 130.00,184.34 131.00,183.96 132.00,183.59 133.00,183.22 133.00,244.6 125.15,244.6"/><polygon points="133.00,183.22 134.00,182.87 135.00,182.53 136.00,182.21 137.00,181.89 138.00,181.58 139.00,181.28 140.00,180.98 140.00,244.6 133.00,244.6"/><polygon points="140.00,180.98 141.00,180.68 142.00,180.38 143.00,180.08 144.00,179.76 145.00,179.44 146.00,179.11 147.00,178.76 148.00,178.39 148.00,244.6 140.00,244.6"/><polygon points="148.00,178.39 149.00,178.01 150.00,177.59 151.00,177.14 152.00,176.65 153.00,176.16 154.00,175.66 155.00,175.17 155.00,244.6 148.00,244.6"/><polygon points="155.00,175.17 156.00,174.70 157.00,174.25 158.00,173.80 159.00,173.37 160.00,172.94 161.00,172.51 162.00,172.07 163.00,171.63 163.00,244.6 155.00,244.6"/><polygon points="163.00,171.63 164.00,171.18 165.00,170.72 166.00,170.27 167.00,169.82 168.00,169.37 169.00,168.92 170.00,168.46 170.00,244.6 163.00,244.6"/><polygon points="170.00,168.46 171.00,168.01 172.00,167.56 173.00,167.10 174.00,166.65 175.00,166.19 176.00,165.74 177.00,165.29 177.00,244.6 170.00,244.6"/><polygon points="177.00,165.29 178.00,164.85 179.00,164.41 180.00,163.99 181.00,163.57 182.00,163.15 183.00,162.74 184.00,162.33 184.15,162.27 184.15,244.6 177.00,244.6"/><polygon points="184.15,162.27 185.00,161.93 186.00,161.53 187.00,161.13 188.00,160.74 189.00,160.36 190.00,159.99 191.00,159.63 192.00,159.28 192.15,159.23 192.15,244.6 184.15,244.6"/><polygon points="192.15,159.23 193.00,158.94 194.00,158.60 195.00,158.27 196.00,157.95 197.00,157.63 198.00,157.32 199.00,157.02 199.15,156.98 199.15,244.6 192.15,244.6"/><polygon points="199.15,156.98 200.00,156.73 201.00,156.44 202.00,156.16 203.00,155.89 204.00,155.62 205.00,155.36 206.00,155.10 207.00,154.84 207.15,154.80 207.15,244.6 199.15,244.6"/><polygon points="207.15,154.80 208.00,154.58 209.00,154.31 210.00,154.05 211.00,153.79 212.00,153.52 213.00,153.26 214.00,153.00 214.15,152.96 214.15,244.6 207.15,244.6"/><polygon points="214.15,152.96 215.00,152.73 216.00,152.47 217.00,152.22 218.00,151.96 219.00,151.70 220.00,151.45 221.00,151.20 222.00,150.96 222.15,150.92 222.15,244.6 214.15,244.6"/><polygon points="222.15,150.92 223.00,150.72 224.00,150.48 225.00,150.24 226.00,150.00 227.00,149.75 228.00,149.49 229.00,149.23 229.15,149.19 229.15,244.6 222.15,244.6"/><polygon points="229.15,149.19 230.00,148.96 231.00,148.68 232.00,148.39 233.00,148.09 234.00,147.79 235.00,147.48 236.00,147.17 237.00,146.86 237.15,146.81 237.15,244.6 229.15,244.6"/><polygon points="237.15,146.81 238.00,146.54 239.00,146.22 240.00,145.89 241.00,145.55 242.00,145.20 243.00,144.85 244.00,144.50 244.15,144.44 244.15,244.6 237.15,244.6"/><polygon points="244.15,144.44 245.00,144.14 246.00,143.78 247.00,143.43 248.00,143.08 249.00,142.74 250.00,142.40 251.00,142.07 252.00,141.75 252.15,141.70 252.15,244.6 244.15,244.6"/><polygon points="252.15,141.70 253.00,141.43 254.00,141.12 255.00,140.80 256.00,140.49 257.00,140.18 258.00,139.86 259.00,139.54 260.00,139.22 260.00,244.6 252.15,244.6"/><polygon points="260.00,139.22 261.00,138.90 262.00,138.57 263.00,138.25 264.00,137.92 265.00,137.59 266.00,137.26 267.00,136.93 267.00,244.6 260.00,244.6"/><polygon points="267.00,136.93 268.00,136.59 269.00,136.25 270.00,135.91 271.00,135.56 272.00,135.20 273.00,134.84 274.00,134.47 275.00,134.11 275.00,244.6 267.00,244.6"/><polygon points="275.00,134.11 276.00,133.75 277.00,133.40 278.00,133.05 279.00,132.72 280.00,132.40 281.00,132.09 282.00,131.78 282.00,244.6 275.00,244.6"/><polygon points="282.00,131.78 283.00,131.49 284.00,131.20 285.00,130.90 286.00,130.61 287.00,130.31 288.00,130.00 289.00,129.68 290.00,129.35 290.00,244.6 282.00,244.6"/><polygon points="290.00,129.35 291.00,129.00 292.00,128.64 293.00,128.26 294.00,127.88 295.00,127.49 296.00,127.09 297.00,126.70 297.00,244.6 290.00,244.6"/><polygon points="297.00,126.70 298.00,126.31 299.00,125.93 300.00,125.55 301.00,125.18 302.00,124.81 303.00,124.45 304.00,124.09 304.00,244.6 297.00,244.6"/><polygon points="304.00,124.09 305.00,123.72 306.00,123.36 307.00,122.99 308.00,122.63 309.00,122.26 310.00,121.89 311.00,121.52 311.15,121.46 311.15,244.6 304.00,244.6"/><polygon points="311.15,121.46 312.00,121.14 313.00,120.77 314.00,120.39 315.00,120.01 316.00,119.64 317.00,119.26 318.00,118.89 319.00,118.51 319.15,118.46 319.15,244.6 311.15,244.6"/><polygon points="319.15,118.46 320.00,118.14 321.00,117.78 322.00,117.42 323.00,117.06 324.00,116.70 325.00,116.34 326.00,115.98 326.15,115.92 326.15,244.6 319.15,244.6"/><polygon points="326.15,115.92 327.00,115.61 328.00,115.23 329.00,114.85 330.00,114.45 331.00,114.04 332.00,113.62 333.00,113.18 334.00,112.74 334.15,112.68 334.15,244.6 326.15,244.6"/><polygon points="334.15,112.68 335.00,112.29 336.00,111.84 337.00,111.40 338.00,110.95 339.00,110.51 340.00,110.08 341.00,109.63 341.15,109.57 341.15,244.6 334.15,244.6"/><polygon points="341.15,109.57 342.00,109.19 343.00,108.75 344.00,108.31 345.00,107.87 346.00,107.43 347.00,107.00 348.00,106.56 349.00,106.13 349.15,106.07 349.15,244.6 341.15,244.6"/><polygon points="349.15,106.07 350.00,105.70 351.00,105.27 352.00,104.85 353.00,104.43 354.00,104.01 355.00,103.59 356.00,103.17 356.15,103.10 356.15,244.6 349.15,244.6"/><polygon points="356.15,103.10 357.00,102.75 358.00,102.33 359.00,101.91 360.00,101.49 361.00,101.07 362.00,100.65 363.00,100.24 364.00,99.83 364.15,99.76 364.15,244.6 356.15,244.6"/><polygon points="364.15,99.76 365.00,99.41 366.00,99.01 367.00,98.60 368.00,98.19 369.00,97.77 370.00,97.35 371.00,96.92 371.15,96.85 371.15,244.6 364.15,244.6"/><polygon points="371.15,96.85 372.00,96.48 373.00,96.03 374.00,95.58 375.00,95.13 376.00,94.67 377.00,94.21 378.00,93.75 379.00,93.29 379.15,93.23 379.15,244.6 371.15,244.6"/><polygon points="379.15,93.23 380.00,92.84 381.00,92.39 382.00,91.94 383.00,91.49 384.00,91.05 385.00,90.60 386.00,90.16 386.15,90.09 386.15,244.6 379.15,244.6"/><polygon points="386.15,90.09 387.00,89.72 388.00,89.27 389.00,88.82 390.00,88.36 391.00,87.90 392.00,87.44 393.00,86.96 394.00,86.49 394.10,86.44 394.10,244.6 386.15,244.6"/></g>
<g fill="#98FB98"><polygon points="53.30,196.00 54.00,196.07 55.00,196.17 56.00,196.27 57.00,196.37 58.00,196.46 58.00,244.6 53.30,244.6"/><polygon points="58.00,196.46 59.00,196.54 60.00,196.63 61.00,196.71 62.00,196.78 63.00,196.85 64.00,196.92 65.00,196.98 65.09,196.99 65.09,244.6 58.00,244.6"/><polygon points="65.09,196.99 66.00,197.04 67.00,197.11 68.00,197.17 69.00,197.23 70.00,197.28 71.00,197.32 72.00,197.35 72.09,197.35 72.09,244.6 65.09,244.6"/><polygon points="72.09,197.35 73.00,197.35 74.00,197.34 75.00,197.33 76.00,197.32 77.00,197.30 78.00,197.28 79.00,197.25 80.00,197.22 80.09,197.22 80.09,244.6 72.09,244.6"/><polygon points="80.09,197.22 81.00,197.19 82.00,197.14 83.00,197.06 84.00,196.96 85.00,196.83 86.00,196.70 87.00,196.55 87.09,196.54 87.09,244.6 80.09,244.6"/><polygon points="87.09,196.54 88.00,196.40 89.00,196.22 90.00,195.99 91.00,195.74 92.00,195.48 93.00,195.24 94.00,195.02 95.00,194.81 95.09,194.79 95.09,244.6 87.09,244.6"/><polygon points="95.09,194.79 96.00,194.61 97.00,194.42 98.00,194.24 99.00,194.05 100.00,193.86 101.00,193.67 102.00,193.47 102.09,193.45 102.09,244.6 95.09,244.6"/><polygon points="102.09,193.45 103.00,193.26 104.00,193.05 105.00,192.83 106.00,192.61 107.00,192.38 108.00,192.15 109.00,191.92 110.00,191.67 110.09,191.65 110.09,244.6 102.09,244.6"/><polygon points="110.09,191.65 111.00,191.42 112.00,191.15 113.00,190.87 114.00,190.56 115.00,190.22 116.00,189.86 117.00,189.50 117.09,189.47 117.09,244.6 110.09,244.6"/><polygon points="117.09,189.47 118.00,189.14 119.00,188.80 120.00,188.50 121.00,188.24 122.00,188.00 123.00,187.76 124.00,187.50 125.00,187.20 125.09,187.17 125.09,244.6 117.09,244.6"/><polygon points="125.09,187.17 126.00,186.88 127.00,186.54 128.00,186.18 129.00,185.82 130.00,185.44 131.00,185.07 132.00,184.70 133.00,184.33 133.00,244.6 125.09,244.6"/><polygon points="133.00,184.33 134.00,183.97 135.00,183.63 136.00,183.28 137.00,182.93 138.00,182.57 139.00,182.22 140.00,181.86 140.00,244.6 133.00,244.6"/><polygon points="140.00,181.86 141.00,181.51 142.00,181.17 143.00,180.83 144.00,180.49 145.00,180.17 146.00,179.86 147.00,179.57 148.00,179.29 148.00,244.6 140.00,244.6"/><polygon points="148.00,179.29 149.00,179.02 150.00,178.77 151.00,178.50 152.00,178.25 153.00,178.02 154.00,177.81 155.00,177.64 155.00,244.6 148.00,244.6"/><polygon points="155.00,177.64 156.00,177.51 157.00,177.42 158.00,177.36 159.00,177.30 160.00,177.25 161.00,177.21 162.00,177.15 163.00,177.08 163.00,244.6 155.00,244.6"/><polygon points="163.00,177.08 164.00,177.00 165.00,176.89 166.00,176.77 167.00,176.64 168.00,176.50 169.00,176.35 170.00,176.19 170.00,244.6 163.00,244.6"/><polygon points="170.00,176.19 171.00,176.03 172.00,175.84 173.00,175.64 174.00,175.42 175.00,175.19 176.00,174.96 177.00,174.72 177.00,244.6 170.00,244.6"/><polygon points="177.00,174.72 178.00,174.49 179.00,174.27 180.00,174.06 181.00,173.86 182.00,173.67 183.00,173.47 184.00,173.28 184.09,173.27 184.09,244.6 177.00,244.6"/><polygon points="184.09,173.27 185.00,173.09 186.00,172.90 187.00,172.71 188.00,172.52 189.00,172.33 190.00,172.14 191.00,171.95 192.00,171.77 192.09,171.75 192.09,244.6 184.09,244.6"/><polygon points="192.09,171.75 193.00,171.58 194.00,171.39 195.00,171.21 196.00,171.02 197.00,170.84 198.00,170.67 199.00,170.49 199.09,170.48 199.09,244.6 192.09,244.6"/><polygon points="199.09,170.48 200.00,170.32 201.00,170.14 202.00,169.97 203.00,169.79 204.00,169.62 205.00,169.44 206.00,169.25 207.00,169.07 207.09,169.05 207.09,244.6 199.09,244.6"/><polygon points="207.09,169.05 208.00,168.88 209.00,168.68 210.00,168.48 211.00,168.28 212.00,168.07 213.00,167.87 214.00,167.66 214.09,167.64 214.09,244.6 207.09,244.6"/><polygon points="214.09,167.64 215.00,167.45 216.00,167.23 217.00,167.01 218.00,166.79 219.00,166.56 220.00,166.33 221.00,166.09 222.00,165.85 222.09,165.83 222.09,244.6 214.09,244.6"/><polygon points="222.09,165.83 223.00,165.60 224.00,165.35 225.00,165.09 226.00,164.83 227.00,164.56 228.00,164.29 229.00,164.01 229.09,163.98 229.09,244.6 222.09,244.6"/><polygon points="229.09,163.98 230.00,163.72 231.00,163.43 232.00,163.14 233.00,162.84 234.00,162.54 235.00,162.23 236.00,161.91 237.00,161.59 237.09,161.56 237.09,244.6 229.09,244.6"/><polygon points="237.09,161.56 238.00,161.27 239.00,160.94 240.00,160.60 241.00,160.25 242.00,159.90 243.00,159.53 244.00,159.15 244.09,159.11 244.09,244.6 237.09,244.6"/><polygon points="244.09,159.11 245.00,158.76 246.00,158.36 247.00,157.96 248.00,157.55 249.00,157.14 250.00,156.73 251.00,156.32 252.00,155.91 252.09,155.87 252.09,244.6 244.09,244.6"/><polygon points="252.09,155.87 253.00,155.50 254.00,155.10 255.00,154.70 256.00,154.30 257.00,153.90 258.00,153.49 259.00,153.08 260.00,152.68 260.00,244.6 252.09,244.6"/><polygon points="260.00,152.68 261.00,152.27 262.00,151.86 263.00,151.45 264.00,151.05 265.00,150.65 266.00,150.26 267.00,149.87 267.00,244.6 260.00,244.6"/><polygon points="267.00,149.87 268.00,149.49 269.00,149.11 270.00,148.74 271.00,148.38 272.00,148.02 273.00,147.66 274.00,147.31 275.00,146.96 275.00,244.6 267.00,244.6"/><polygon points="275.00,146.96 276.00,146.62 277.00,146.27 278.00,145.93 279.00,145.59 280.00,145.25 281.00,144.91 282.00,144.57 282.00,244.6 275.00,244.6"/><polygon points="282.00,144.57 283.00,144.24 284.00,143.90 285.00,143.56 286.00,143.24 287.00,142.91 288.00,142.60 289.00,142.28 290.00,141.96 290.00,244.6 282.00,244.6"/><polygon points="290.00,141.96 291.00,141.64 292.00,141.33 293.00,141.01 294.00,140.68 295.00,140.35 296.00,140.02 297.00,139.68 297.00,244.6 290.00,244.6"/><polygon points="297.00,139.68 298.00,139.33 299.00,138.97 300.00,138.60 301.00,138.22 302.00,137.82 303.00,137.42 304.00,137.00 304.00,244.6 297.00,244.6"/><polygon points="304.00,137.00 305.00,136.57 306.00,136.14 307.00,135.70 308.00,135.26 309.00,134.82 310.00,134.37 311.00,133.93 311.09,133.89 311.09,244.6 304.00,244.6"/><polygon points="311.09,133.89 312.00,133.48 313.00,133.05 314.00,132.61 315.00,132.19 316.00,131.76 317.00,131.34 318.00,130.92 319.00,130.50 319.09,130.46 319.09,244.6 311.09,244.6"/><polygon points="319.09,130.46 320.00,130.08 321.00,129.66 322.00,129.24 323.00,128.82 324.00,128.40 325.00,127.98 326.00,127.55 326.09,127.51 326.09,244.6 319.09,244.6"/><polygon points="326.09,127.51 327.00,127.12 328.00,126.69 329.00,126.26 330.00,125.82 331.00,125.38 332.00,124.94 333.00,124.49 334.00,124.04 334.09,124.00 334.09,244.6 326.09,244.6"/><polygon points="334.09,124.00 335.00,123.59 336.00,123.14 337.00,122.69 338.00,122.24 339.00,121.79 340.00,121.34 341.00,120.87 341.09,120.83 341.09,244.6 334.09,244.6"/><polygon points="341.09,120.83 342.00,120.41 343.00,119.95 344.00,119.49 345.00,119.03 346.00,118.57 347.00,118.11 348.00,117.65 349.00,117.19 349.09,117.15 349.09,244.6 341.09,244.6"/><polygon points="349.09,117.15 350.00,116.74 351.00,116.28 352.00,115.82 353.00,115.36 354.00,114.89 355.00,114.43 356.00,113.97 356.09,113.93 356.09,244.6 349.09,244.6"/><polygon points="356.09,113.93 357.00,113.50 358.00,113.04 359.00,112.57 360.00,112.10 361.00,111.63 362.00,111.16 363.00,110.68 364.00,110.20 364.09,110.16 364.09,244.6 356.09,244.6"/><polygon points="364.09,110.16 365.00,109.72 366.00,109.25 367.00,108.77 368.00,108.30 369.00,107.81 370.00,107.33 371.00,106.84 371.09,106.80 371.09,244.6 364.09,244.6"/><polygon points="371.09,106.80 372.00,106.36 373.00,105.87 374.00,105.39 375.00,104.91 376.00,104.43 377.00,103.95 378.00,103.48 379.00,103.02 379.09,102.97 379.09,244.6 371.09,244.6"/><polygon points="379.09,102.97 380.00,102.56 381.00,102.10 382.00,101.65 383.00,101.19 384.00,100.73 385.00,100.26 386.00,99.79 386.09,99.74 386.09,244.6 379.09,244.6"/><polygon points="386.09,99.74 387.00,99.30 388.00,98.80 389.00,98.29 390.00,97.76 391.00,97.22 392.00,96.67 393.00,96.12 394.00,95.55 394.10,95.49 394.10,244.6 386.09,244.6"/></g>
<polyline points="258.0,140.21 259.0,139.89 260.0,139.57 261.0,139.25 262.0,138.92 263.0,138.60 264.0,138.27 265.0,137.94 266.0,137.61 267.0,137.28 268.0,136.94 269.0,136.60 270.0,136.26 271.0,135.91 272.0,135.55 273.0,135.19 274.0,134.82 275.0,134.46 276.0,134.10 277.0,133.75 278.0,133.40 279.0,133.07 280.0,132.75 281.0,132.44 282.0,132.13 283.0,131.84 284.0,131.55 285.0,131.25 286.0,130.96 287.0,130.66 288.0,130.35 289.0,130.03 290.0,129.70 291.0,129.35 292.0,128.99 293.0,128.61 294.0,128.23 295.0,127.84 296.0,127.44 297.0,127.05 298.0,126.66 299.0,126.28 300.0,125.90 301.0,125.53 302.0,125.16 303.0,124.80 304.0,124.44 305.0,124.07 306.0,123.71 307.0,123.34 308.0,122.98 309.0,122.61 310.0,122.24 311.0,121.87 312.0,121.49 313.0,121.12 314.0,120.74 315.0,120.36 316.0,119.99 317.0,119.61 318.0,119.24 319.0,118.86 320.0,118.49 321.0,118.13 322.0,117.77 323.0,117.41 324.0,117.05 325.0,116.69 326.0,116.33 327.0,115.96 328.0,115.58 329.0,115.20 330.0,114.80 331.0,114.39 332.0,113.97 333.0,113.53 334.0,113.09 335.0,112.64 336.0,112.19 337.0,111.75 338.0,111.30 339.0,110.86 340.0,110.43 341.0,109.98 342.0,109.54 343.0,109.10 344.0,108.66 345.0,108.22 346.0,107.78 347.0,107.35 348.0,106.91 349.0,106.48 350.0,106.05 351.0,105.62 352.0,105.20 353.0,104.78 354.0,104.36 355.0,103.94 356.0,103.52 357.0,103.10 358.0,102.68 359.0,102.26 360.0,101.84 361.0,101.42 362.0,101.00 363.0,100.59 364.0,100.18 365.0,99.76 366.0,99.36 367.0,98.95 368.0,98.54 369.0,98.12 370.0,97.70 371.0,97.27 372.0,96.83 373.0,96.38 374.0,95.93 375.0,95.48 376.0,95.02 377.0,94.56 378.0,94.10 379.0,93.64 380.0,93.19 381.0,92.74 382.0,92.29 383.0,91.84 384.0,91.40 385.0,90.95 386.0,90.51 387.0,90.07 388.0,89.62 389.0,89.17 390.0,88.71 391.0,88.25 392.0,87.79 393.0,87.31 394.0,86.84" fill="none" stroke="#8fd0e0" stroke-width="0.8" stroke-opacity="0.6"/>
<path d="M51.4 194.1H396.3" stroke="#FF00FF" stroke-width="1.15" stroke-dasharray="2.3 1.15" fill="none"/>
<rect x="51.1" y="31.05" width="345.20" height="216.20" fill="none" stroke="#000" stroke-width="1.15"/>
<g font-family="'Liberation Sans', sans-serif" fill="#000" stroke="#000" stroke-width="0.18" opacity="0.999" style="will-change:transform" text-rendering="geometricPrecision"><g transform="rotate(0.04 207 145)">
<text x="44.3" y="35.65" font-size="10.3" text-anchor="end">10<tspan font-size="8.4" dy="-5.3" dx="-0.9">-21</tspan></text>
<text x="44.3" y="71.68" font-size="10.3" text-anchor="end">10<tspan font-size="8.4" dy="-5.3" dx="-0.9">-22</tspan></text>
<text x="44.3" y="107.72" font-size="10.3" text-anchor="end">10<tspan font-size="8.4" dy="-5.3" dx="-0.9">-23</tspan></text>
<text x="44.3" y="143.75" font-size="10.3" text-anchor="end">10<tspan font-size="8.4" dy="-5.3" dx="-0.9">-24</tspan></text>
<text x="44.3" y="179.78" font-size="10.3" text-anchor="end">10<tspan font-size="8.4" dy="-5.3" dx="-0.9">-25</tspan></text>
<text x="44.3" y="215.82" font-size="10.3" text-anchor="end">10<tspan font-size="8.4" dy="-5.3" dx="-0.9">-26</tspan></text>
<text x="44.3" y="251.85" font-size="10.3" text-anchor="end">10<tspan font-size="8.4" dy="-5.3" dx="-0.9">-27</tspan></text>
<text x="45.55" y="262.6" font-size="10.3" text-anchor="start">10<tspan font-size="8.4" dy="-4.7" dx="-0.4">1</tspan></text>
<text x="159.80" y="262.6" font-size="10.3" text-anchor="start">10<tspan font-size="8.4" dy="-4.7" dx="-0.4">2</tspan></text>
<text x="274.05" y="262.6" font-size="10.3" text-anchor="start">10<tspan font-size="8.4" dy="-4.7" dx="-0.4">3</tspan></text>
<text x="388.30" y="262.6" font-size="10.3" text-anchor="start">10<tspan font-size="8.4" dy="-4.7" dx="-0.4">4</tspan></text>
<text x="179" y="20.7" font-size="10.55">b b (best fit MAGN)</text>
<path d="M188.4 12.7H191.7" stroke="#000" stroke-width="0.8"/>
<text x="202.3" y="275.8" font-size="10.55">M<tspan font-size="8.4" dy="3">χ</tspan><tspan dy="-3"> [GeV]</tspan></text>
<text transform="translate(14.6,170.8) rotate(-90)" font-size="10.55">&lt;σ v&gt; [cm<tspan font-size="8.4" dy="-6.0">3</tspan><tspan dy="6.0">/s]</tspan></text>
<text x="349.5" y="42.7" font-size="10.55" text-anchor="end">Min <tspan dx="-0.6">Σ</tspan><tspan font-size="8.4" dy="3" dx="-0.8">BMS</tspan><tspan dy="-3"> MW/PL SF</tspan></text>
<text x="349.5" y="53.9" font-size="10.55" text-anchor="end">Best fit <tspan dx="-0.6">Σ</tspan><tspan font-size="8.4" dy="3" dx="-0.8">BMS</tspan><tspan dy="-3"> MW SF</tspan></text>
<text x="349.5" y="65.3" font-size="10.55" text-anchor="end">Best fit <tspan dx="-0.6">Σ</tspan><tspan font-size="8.4" dy="3" dx="-0.8">BMS</tspan><tspan dy="-3"> PL SF</tspan></text>
<text x="349.5" y="76.5" font-size="10.55" text-anchor="end">Max <tspan dx="-0.6">Σ</tspan><tspan font-size="8.4" dy="3" dx="-0.8">BMS</tspan><tspan dy="-3"> MW SF</tspan></text>
<text x="349.5" y="87.9" font-size="10.55" text-anchor="end">Max <tspan dx="-0.6">Σ</tspan><tspan font-size="8.4" dy="3" dx="-0.8">BMS</tspan><tspan dy="-3"> PL SF</tspan></text>
</g></g>
</svg>
</body></html>
